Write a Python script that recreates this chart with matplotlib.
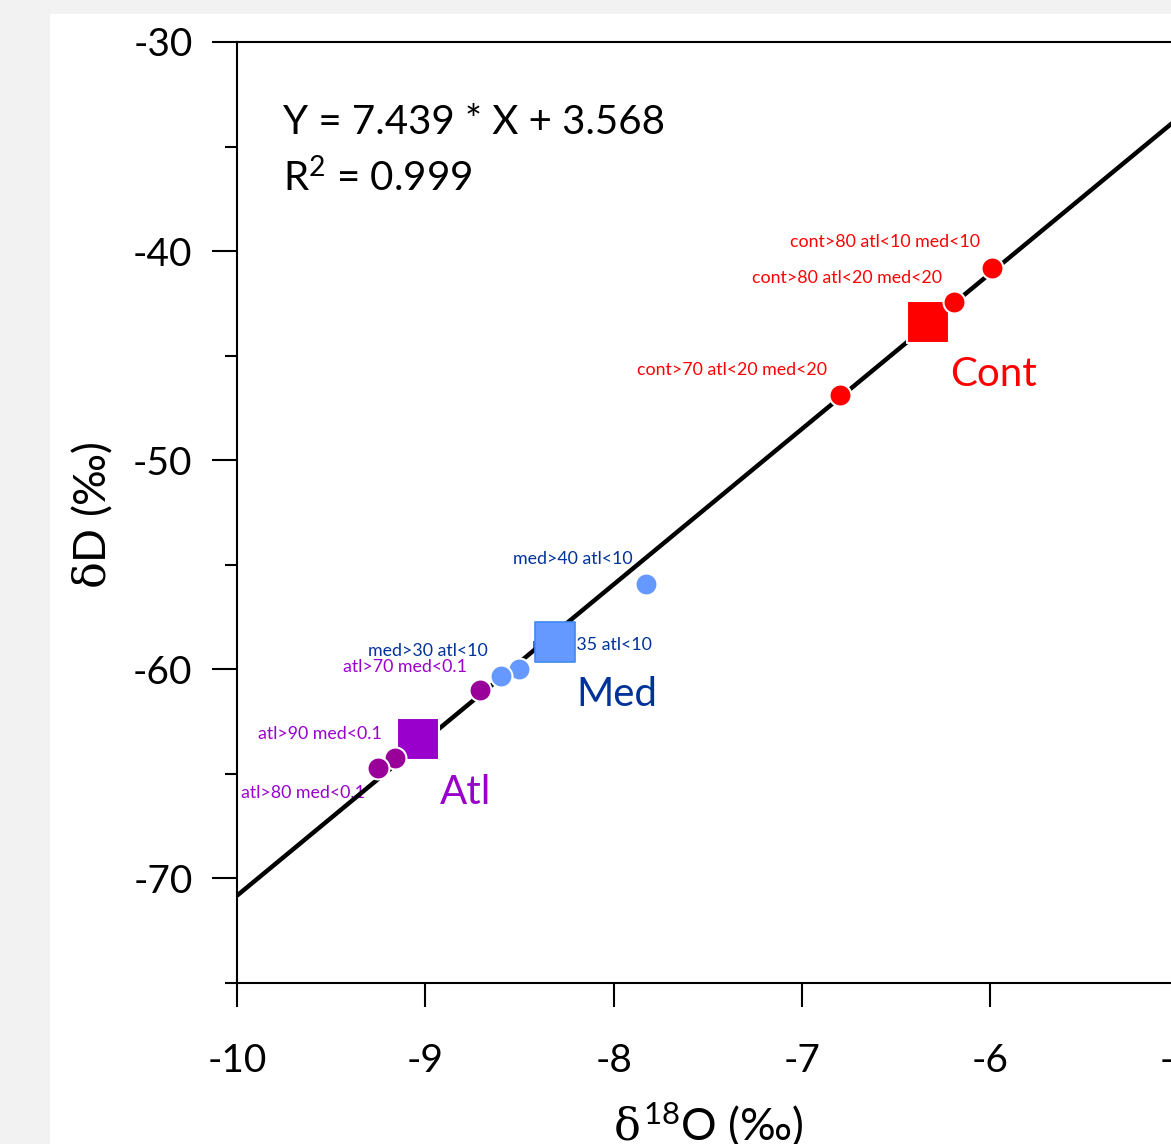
import numpy as np
import matplotlib
matplotlib.use("Agg")
import matplotlib.pyplot as plt
from matplotlib.patches import Rectangle
from matplotlib.ticker import MultipleLocator

plt.rcParams['font.family'] = ['Lato', 'DejaVu Sans']
plt.rcParams['mathtext.fontset'] = 'custom'
plt.rcParams['mathtext.rm'] = 'Lato'
plt.rcParams['mathtext.it'] = 'DejaVu Serif'

# Regression fit
slope = 7.439
intercept = 3.568

# Sample points (d18O, dD)
cont_x = [-5.99, -6.19, -6.80]
cont_y = [-40.8, -42.45, -46.9]
cont_labels = ["cont>80 atl<10 med<10", "cont>80 atl<20 med<20", "cont>70 atl<20 med<20"]

med_x = [-7.83, -8.50, -8.60]
med_y = [-55.9, -60.0, -60.3]
med_labels = ["med>40 atl<10", "med>35 atl<10", "med>30 atl<10"]

atl_x = [-8.71, -9.16, -9.25]
atl_y = [-61.0, -64.25, -64.7]
atl_labels = ["atl>70 med<0.1", "atl>90 med<0.1", "atl>80 med<0.1"]

# End-member means
end_names = ["Cont", "Med", "Atl"]
end_x = [-6.33, -8.31, -9.04]
end_y = [-43.4, -58.7, -63.35]

W, H = 1171, 1144
fig = plt.figure(figsize=(W / 100, H / 100), dpi=100)
fig.patch.set_facecolor("#f2f2f2")
fig.add_artist(Rectangle((50 / W, 0), 1, 1 - 14 / H, transform=fig.transFigure,
                         facecolor="white", edgecolor="none", zorder=-5))

ax = fig.add_axes([237 / W, (H - 983) / H, 188.3 * 5.5 / W, 941 / H])
ax.set_xlim(-10, -4.5)
ax.set_ylim(-75, -30)
ax.patch.set_alpha(0)

for s in ["left", "top", "bottom"]:
    ax.spines[s].set_linewidth(1.5)
ax.spines["right"].set_visible(False)

ax.yaxis.set_minor_locator(MultipleLocator(5))
ax.tick_params(axis="x", which="major", direction="out", length=17, width=1.5,
               labelsize=28, pad=26)
ax.tick_params(axis="y", which="major", direction="out", length=18, width=1.5,
               labelsize=28, pad=14)
ax.tick_params(axis="y", which="minor", direction="out", length=9, width=1.5)
ax.set_xticks([-10, -9, -8, -7, -6, -5])
ax.set_xticklabels(["-10", "-9", "-8", "-7", "-6", "-5"])
ax.set_yticks([-30, -40, -50, -60, -70])
ax.set_yticklabels(["-30", "-40", "-50", "-60", "-70"])

# Regression line
xs = np.array([-10.0, -4.5])
ax.plot(xs, slope * xs + intercept, color="black", lw=3.2, zorder=2, solid_capstyle="butt")

# Points
ax.scatter(cont_x, cont_y, s=250, color="#ff0000", edgecolor="white", linewidth=1.5, zorder=4)
ax.scatter(med_x, med_y, s=250, color="#6699ff", edgecolor="white", linewidth=1.5, zorder=4)
ax.scatter(atl_x, atl_y, s=250, color="#990099", edgecolor="white", linewidth=1.5, zorder=4)

ax.scatter(end_x[0], end_y[0], s=900, marker="s", color="#ff0000", edgecolor="white", linewidth=1.5, zorder=3)
ax.scatter(end_x[1], end_y[1], s=820, marker="s", color="#6699ff", edgecolor="#3d8bf0", linewidth=1.2, zorder=3)
ax.scatter(end_x[2], end_y[2], s=900, marker="s", color="#9900cc", edgecolor="white", linewidth=1.5, zorder=3)

# Sample labels (right-aligned)
lab_pos = [(-6.054, -39.57), (-6.256, -41.29), (-6.867, -45.69)]
for t, (x, y) in zip(cont_labels, lab_pos):
    ax.text(x, y, t, color="#ff0000", fontsize=12.8, ha="right", va="center", zorder=1)
lab_pos = [(-7.897, -54.74), (-7.796, -58.85), (-8.667, -59.14)]
for t, (x, y) in zip(med_labels, lab_pos):
    ax.text(x, y, t, color="#003399", fontsize=12.8, ha="right", va="center", zorder=1)
lab_pos = [(-8.779, -59.90), (-9.23, -63.11), (-9.32, -65.93)]
for t, (x, y) in zip(atl_labels, lab_pos):
    ax.text(x, y, t, color="#9900cc", fontsize=12.8, ha="right", va="center", zorder=1)

# End-member labels
ax.text(-6.214, -45.9, end_names[0], color="#ff0000", fontsize=29, va="center", zorder=5)
ax.text(-8.20, -61.2, end_names[1], color="#003399", fontsize=29, va="center", zorder=5)
ax.text(-8.922, -65.9, end_names[2], color="#9900cc", fontsize=29, va="center", zorder=5)

# Equation
ax.text(-9.756, -33.85, "Y = 7.439 * X + 3.568", fontsize=29, va="center")
ax.text(-9.756, -36.5, "R$^{2}$ = 0.999", fontsize=29, va="center")

# Axis labels
fig.text(92 / W, 1 - 515 / H, r"$\delta$D (‰)", rotation=90, fontsize=32,
         ha="center", va="center")
fig.text(708 / W, 1 - 1125 / H, r"$\delta^{18}$O (‰)", fontsize=32,
         ha="center", va="center")

fig.savefig("out.png", dpi=100, facecolor=fig.get_facecolor())
